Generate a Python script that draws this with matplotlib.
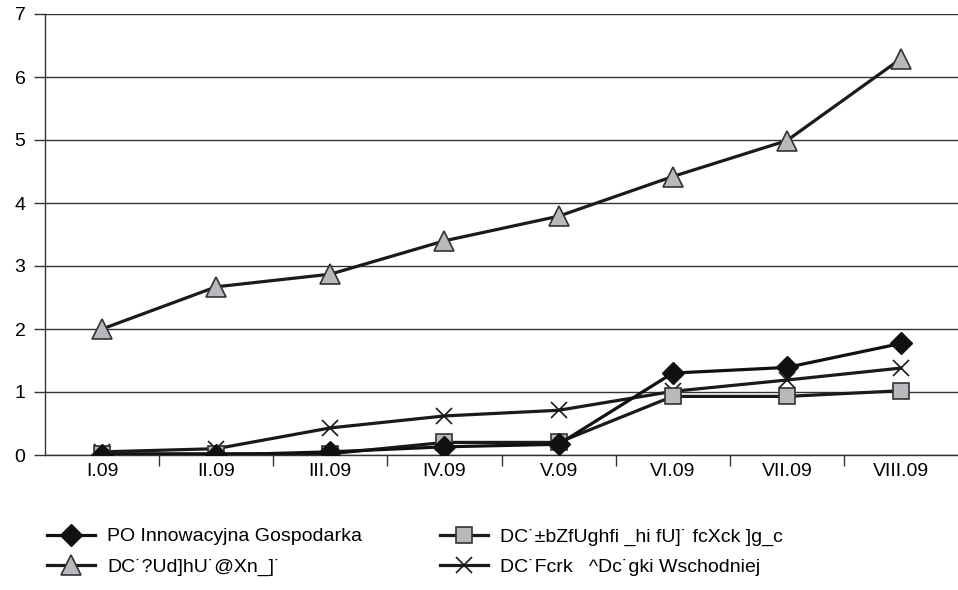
import matplotlib
matplotlib.use("Agg")
import matplotlib.pyplot as plt
from matplotlib.ticker import FixedLocator

plt.rcParams['font.family'] = ['Liberation Sans', 'DejaVu Sans']

months = ["I.09", "II.09", "III.09", "IV.09", "V.09", "VI.09", "VII.09", "VIII.09"]

po_ig = [0.0, 0.0, 0.05, 0.13, 0.17, 1.30, 1.39, 1.77]
po_iis = [0.02, 0.02, 0.02, 0.20, 0.20, 0.93, 0.93, 1.02]
po_kl = [2.0, 2.67, 2.87, 3.40, 3.79, 4.42, 4.99, 6.29]
po_rpw = [0.05, 0.10, 0.43, 0.62, 0.71, 1.01, 1.19, 1.38]

labels = [
    "PO Innowacyjna Gospodarka",
    "DC˙±bZfUghfi _hi fU]˙ fcXck ]g_c",
    "DC˙?Ud]hU˙@Xn_]˙",
    "DC˙Fcrk   ^Dc˙gki Wschodniej",
]

y_ticks = [0, 1, 2, 3, 4, 5, 6, 7]

fig = plt.figure(figsize=(9.58, 5.90), dpi=100)
ax = fig.add_axes([45 / 958, 1 - 455 / 590, 1 - 45 / 958, 441 / 590])

x = list(range(len(months)))
grey = "#b8b9bd"
lw = 2.3

l1, = ax.plot(x, po_ig, color="#111111", lw=lw, marker="D", ms=11,
              mfc="#111111", mec="#111111", zorder=5)
l2, = ax.plot(x, po_iis, color="#1a1a1a", lw=lw, marker="s", ms=12,
              mfc=grey, mec="#333333", mew=1.2, zorder=4)
l3, = ax.plot(x, po_kl, color="#1a1a1a", lw=lw, marker="^", ms=15,
              mfc=grey, mec="#333333", mew=1.2, zorder=4)
l4, = ax.plot(x, po_rpw, color="#1a1a1a", lw=lw, marker="x", ms=12,
              mec="#1a1a1a", mew=1.2, zorder=3)

ax.set_xlim(-0.5, len(months) - 0.5)
ax.set_ylim(0, 7)
ax.set_yticks(y_ticks)
ax.set_yticklabels([str(v) for v in y_ticks])
ax.yaxis.grid(True, color="#333333", lw=1.0)
ax.set_axisbelow(True)

ax.set_xticks(x)
ax.set_xticklabels(months)
ax.xaxis.set_minor_locator(FixedLocator([i + 0.5 for i in range(len(months) - 1)]))
ax.tick_params(axis="x", which="major", length=0, pad=6, labelsize=14)
ax.tick_params(axis="x", which="minor", length=8, width=1.0, color="#333333", direction="out")
ax.tick_params(axis="y", length=8, width=1.0, color="#333333", labelsize=14, pad=6)

for side in ("top", "right"):
    ax.spines[side].set_visible(False)
for side in ("left", "bottom"):
    ax.spines[side].set_color("#333333")
    ax.spines[side].set_linewidth(1.0)

# two columns, filled row by row
fig.legend([l1, l3, l2, l4], [labels[0], labels[2], labels[1], labels[3]],
           loc="upper left", bbox_to_anchor=(39 / 958, 1 - 520 / 590),
           ncol=2, frameon=False, fontsize=14, handlelength=2.5,
           handletextpad=0.6, columnspacing=4.0, labelspacing=0.65,
           borderaxespad=0)

fig.savefig("out.png", dpi=100)
